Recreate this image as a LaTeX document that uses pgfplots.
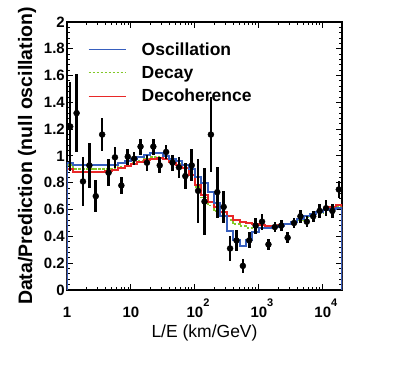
\documentclass[border=0pt]{standalone}
\usepackage{fontspec}
\setmainfont{Liberation Sans}
\usepackage{pgfplots}
\pgfplotsset{compat=1.18}
\usepackage{pgfplotstable}
\usetikzlibrary{calc}

\definecolor{oscblue}{RGB}{55,95,190}
\definecolor{dcyg}{RGB}{130,200,40}
\definecolor{dchred}{RGB}{232,40,40}

% model histograms: left bin edge, value in the bin (Oscillation, Decay, Decoherence)
\pgfplotstableread{
x      osc    dcy    dch
1      0      0      0
1      0.950  0.930  0.900
1.2589 0.930  0.900  0.880
1.5849 0.930  0.900  0.880
1.9953 0.930  0.900  0.880
2.5119 0.930  0.900  0.880
3.1623 0.930  0.900  0.880
3.9811 0.930  0.900  0.885
5.0119 0.935  0.905  0.895
6.3096 0.945  0.920  0.910
7.9433 0.960  0.935  0.925
10     0.975  0.950  0.940
12.589 0.990  0.965  0.955
15.849 1.005  0.980  0.970
19.953 1.020  0.990  0.980
25.119 1.025  0.995  0.985
31.623 1.000  0.980  0.975
39.811 0.980  0.960  0.955
50.119 0.960  0.940  0.930
63.096 0.930  0.910  0.910
79.433 0.900  0.860  0.860
100    0.840  0.770  0.780
125.89 0.800  0.690  0.710
158.49 0.730  0.630  0.660
199.53 0.650  0.590  0.620
251.19 0.550  0.550  0.585
316.23 0.440  0.520  0.550
398.11 0.370  0.490  0.520
501.19 0.330  0.475  0.510
630.96 0.370  0.465  0.500
794.33 0.430  0.460  0.490
1000   0.460  0.460  0.485
1258.9 0.460  0.465  0.480
1584.9 0.470  0.470  0.480
1995.3 0.480  0.480  0.485
2511.9 0.490  0.490  0.495
3162.3 0.510  0.505  0.510
3981.1 0.530  0.525  0.530
5011.9 0.550  0.545  0.550
6309.6 0.565  0.560  0.565
7943.3 0.580  0.575  0.580
10000  0.595  0.595  0.600
12589  0.605  0.610  0.620
15849  0.610  0.620  0.635
19953  0.610  0.620  0.635
19953  0      0      0
}\models

% data points: bin centre, ratio, error
\pgfplotstableread{
x      y     e
1.1220 1.22  0.33
1.4125 1.32  0.29
1.7783 0.81  0.18
2.2387 0.93  0.17
2.8184 0.70  0.12
3.5481 1.16  0.12
4.4668 0.875 0.10
5.6234 0.99  0.08
7.0795 0.78  0.06
8.9125 0.995 0.06
11.220 0.98  0.05
14.125 1.07  0.06
17.783 0.95  0.06
22.387 1.07  0.06
28.184 0.93  0.06
35.481 1.03  0.05
44.668 0.95  0.06
56.234 0.915 0.08
70.795 0.85  0.10
89.125 0.93  0.12
112.20 0.74  0.24
141.25 0.66  0.25
177.83 1.16  0.28
223.87 0.73  0.19
281.84 0.62  0.12
354.81 0.31  0.09
446.68 0.37  0.08
562.34 0.18  0.05
707.95 0.37  0.06
891.25 0.48  0.06
1122.0 0.51  0.06
1412.5 0.34  0.04
1778.3 0.47  0.04
2238.7 0.48  0.04
2818.4 0.39  0.04
3548.1 0.50  0.04
4466.8 0.55  0.05
5623.4 0.51  0.04
7079.5 0.55  0.04
8912.5 0.59  0.05
11220  0.61  0.06
14125  0.59  0.05
17783  0.75  0.06
}\points

\begin{document}
\begin{tikzpicture}
\begin{axis}[
  scale only axis,
  width=275bp, height=268bp,
  xmode=log,
  xmin=1, xmax=19953,
  ymin=0, ymax=2,
  axis line style={line width=1.3bp},
  tick style={line width=1bp, black},
  tick align=inside,
  major tick length=6bp,
  minor tick length=3bp,
  xtick={1,10,100,1000,10000},
  xticklabels={1,10,10\rlap{\raisebox{11bp}{\fontsize{11bp}{11bp}\selectfont\bfseries 2}},
    10\rlap{\raisebox{11bp}{\fontsize{11bp}{11bp}\selectfont\bfseries 3}},
    10\rlap{\raisebox{11bp}{\fontsize{11bp}{11bp}\selectfont\bfseries 4}}},
  xticklabel style={font=\fontsize{15bp}{15bp}\selectfont\bfseries,
    inner sep=0pt, text height=19bp, text depth=0pt, yshift=-8bp},
  ytick={0,0.2,...,2},
  minor y tick num=4,
  yticklabel style={font=\fontsize{15bp}{15bp}\selectfont\bfseries, inner sep=2bp},
  /pgf/number format/assume math mode=true,
  xlabel={L/E (km/GeV)},
  xlabel style={font=\fontsize{17.5bp}{17.5bp}\selectfont,
    at={(axis description cs:0.5,-0.16)}, anchor=center},
  ylabel={Data/Prediction (null oscillation)},
  ylabel style={font=\fontsize{19.5bp}{19.5bp}\selectfont\bfseries,
    at={(axis description cs:-0.145,0.5)}, anchor=center},
  legend cell align=left,
  legend style={draw=none, fill=none, inner sep=0pt,
    at={(axis description cs:0.076,0.93)}, anchor=north west,
    font=\fontsize{17.5bp}{21bp}\selectfont\bfseries,
    row sep=6.5bp, column sep=14bp,
    nodes={inner sep=1.5bp}},
  legend image code/.code={\draw[#1, line width=1.1bp] (0bp,0bp) -- (37bp,0bp);},
]
\addplot[const plot, oscblue, line width=2bp] table[x=x, y=osc] {\models};
\addlegendentry{Oscillation}
\addplot[const plot, dcyg, line width=1.8bp, dash pattern=on 2.5bp off 1.5bp] table[x=x, y=dcy] {\models};
\addlegendentry{Decay}
\addplot[const plot, dchred, line width=2bp] table[x=x, y=dch] {\models};
\addlegendentry{Decoherence}
% blue once more on top of the others
\addplot[const plot, oscblue, line width=2bp, forget plot] table[x=x, y=osc] {\models};
\addplot[only marks, mark=*, mark size=3bp, black, forget plot,
  error bars/.cd, y dir=both, y explicit,
  error bar style={line width=2.6bp, black}, error mark=none]
  table[x=x, y=y, y error=e] {\points};
\end{axis}
\path ($(current axis.south west)+(-67bp,-75bp)$) rectangle ($(current axis.north east)+(67bp,22bp)$);
\end{tikzpicture}
\end{document}
